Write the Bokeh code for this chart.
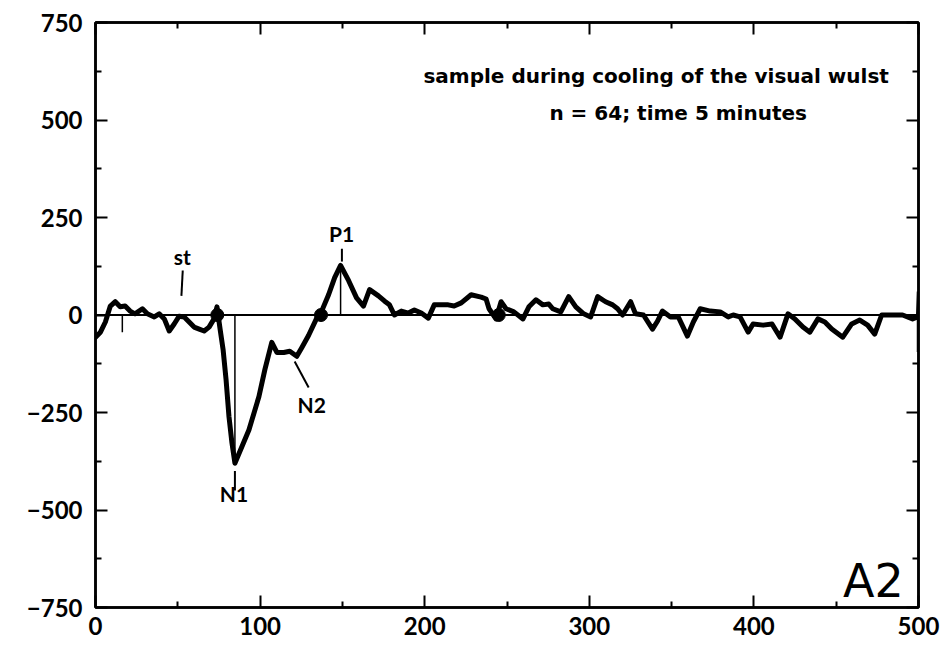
from bokeh.plotting import figure
from bokeh.models import Range1d, FixedTicker, LinearAxis, ColumnDataSource
from bokeh.core.properties import value
from bokeh.embed import file_html
from bokeh.resources import INLINE

# ---- data ----
time_ms = [0, 3, 6, 9, 12, 15, 18, 21, 24, 28.5, 31.5, 35.7, 38.7, 41.8, 44.8, 47.8,
           50.8, 53.9, 56.9, 59.9, 63, 66, 69, 72, 73.8, 75.7, 77.5, 79.3, 81.1, 82.9,
           84.7, 93.2, 99.3, 102.9, 107.1, 110.2, 114.4, 118, 122.3, 125.3, 129.5,
           134.4, 137.4, 141.6, 145.3, 148.9, 153.8, 158.6, 162.8, 166.5, 171.9,
           175.5, 178.6, 181.6, 185.8, 190.1, 193.7, 197.9, 202.2, 205.8, 210, 214.3,
           217.9, 222.2, 228.2, 234.3, 237.3, 239.1, 243.3, 246.4, 249.4, 254.2,
           259.7, 263.3, 267.6, 271.8, 275.4, 277.8, 282.7, 287.5, 291.8, 296.6,
           300.8, 305.1, 309.9, 314.2, 317.2, 320.2, 325.1, 328.1, 332.9, 338.4,
           341.4, 344.4, 349.3, 354.1, 359.6, 363.2, 367.4, 373.5, 379.5, 384.4,
           387.4, 391.6, 396.5, 399.5, 405.6, 411, 415.9, 420.7, 424.9, 429.8, 434,
           438.9, 443.1, 447.3, 454, 459.4, 464.3, 469.1, 473.4, 477.6, 484.3, 490.3,
           496.4, 499.5]
amplitude = [-57, -44, -18, 23, 34, 21, 23, 10, 3, 16, 3, -5, 3, -10, -41, -23,
             -3, -5, -18, -31, -36, -41, -31, -10, 21, -36, -88, -165, -261, -328,
             -380, -295, -209, -140, -70, -96, -96, -93, -106, -84, -52,
             -8, 10, 52, 96, 127, 88, 44, 23, 65, 49,
             36, 26, 0, 10, 5, 13, 5, -8, 26, 26, 26,
             23, 31, 52, 46, 41, 16, -10, 34, 16, 8,
             -10, 21, 39, 26, 28, 16, 8, 47, 21, 3,
             -5, 47, 34, 26, 16, 0, 34, 3, 0, -36,
             -16, 10, -5, -5, -54, -18, 16, 10, 8, -5,
             0, -5, -44, -23, -26, -23, -57, 3, -10, -31, -44,
             -10, -18, -36, -57, -23, -13, -26, -49, 0, 0, 0,
             -10, -5]

# end-of-sweep mark
end_x = [499.5, 500, 500]
end_y = [-5, 60, -95]

# latency markers on the baseline
marker_x = [74, 137, 245]
marker_y = [0, 0, 0]

# thin vertical drop lines (from baseline to peak)
drop_x = [16.3, 84.7, 148.9]
drop_top = [0, 0, 127]
drop_bottom = [-44, -380, 0]

# component labels
label_text = ["st", "P1", "N1", "N2"]
label_x = [52.7, 149.5, 84.1, 131.4]
label_y = [150, 209, -457, -230]

# pointer lines for labels
ptr_x0 = [53.0, 149.7, 84.7, 121.0]
ptr_y0 = [114, 170, -400, -119]
ptr_x1 = [52.2, 149.7, 84.7, 129.5]
ptr_y1 = [49, 137, -450, -186]

title_lines = ["sample during cooling of the visual wulst", "n = 64; time 5 minutes"]
panel_label = "A2"

x_major = [0, 100, 200, 300, 400, 500]
x_minor = [50, 150, 250, 350, 450]
y_major = [-750, -500, -250, 0, 250, 500, 750]
y_minor = [-625, -375, -125, 125, 375, 625]

# ---- figure ----
p = figure(width=940, height=645, x_range=Range1d(0, 500), y_range=Range1d(-750, 750),
           output_backend="svg", toolbar_location=None,
           min_border_left=95, min_border_top=22, min_border_right=22, min_border_bottom=38)
p.xgrid.visible = False
p.ygrid.visible = False
p.outline_line_color = "black"
p.outline_line_width = 2.5
p.background_fill_color = "white"
p.border_fill_color = "white"

FONT = "Lato"
TFONT = "DejaVu Sans"

def style_axis(ax, major, minor, show_labels, standoff):
    ax.ticker = FixedTicker(ticks=major, minor_ticks=minor)
    ax.axis_line_color = "black"
    ax.axis_line_width = 2.5
    ax.major_tick_line_color = "black"
    ax.major_tick_line_width = 2
    ax.minor_tick_line_color = "black"
    ax.minor_tick_line_width = 2
    ax.major_tick_in = 12
    ax.major_tick_out = 0
    ax.minor_tick_in = 6
    ax.minor_tick_out = 0
    if show_labels:
        ax.major_label_text_font = FONT
        ax.major_label_text_font_style = "bold"
        ax.major_label_text_font_size = "24px"
        ax.major_label_text_color = "black"
        ax.major_label_standoff = standoff
    else:
        ax.major_label_text_font_size = "0px"
        ax.major_label_standoff = 0

style_axis(p.xaxis[0], x_major, x_minor, True, 9)
style_axis(p.yaxis[0], y_major, y_minor, True, 13)

top_ax = LinearAxis()
right_ax = LinearAxis()
style_axis(top_ax, x_major, x_minor, False, 0)
style_axis(right_ax, y_major, y_minor, False, 0)
p.add_layout(top_ax, "above")
p.add_layout(right_ax, "right")

# baseline
p.line([0, 500], [0, 0], line_color="black", line_width=2)

# drop lines
p.segment(x0=drop_x, y0=drop_top, x1=drop_x, y1=drop_bottom, line_color="black", line_width=1.5)

# trace
p.line(time_ms, amplitude, line_color="black", line_width=5, line_join="round", line_cap="round")
p.line(end_x, end_y, line_color="black", line_width=3.5)

# latency markers
p.scatter(marker_x, marker_y, size=13, marker="circle", fill_color="black", line_color="black")

# pointers
p.segment(x0=ptr_x0, y0=ptr_y0, x1=ptr_x1, y1=ptr_y1, line_color="black", line_width=2)

# labels
src = ColumnDataSource(dict(x=label_x, y=label_y, t=label_text))
p.text(x="x", y="y", text="t", source=src, text_font=value(FONT), text_font_style="bold",
       text_font_size="21px", text_align="center", text_baseline="middle", text_color="black")

# title lines
p.text(x=[482], y=[612], text=[title_lines[0]], text_font=value(TFONT), text_font_style="bold",
       text_font_size="20px", text_align="right", text_baseline="middle", text_color="black")
p.text(x=[354], y=[519], text=[title_lines[1]], text_font=value(TFONT), text_font_style="bold",
       text_font_size="20px", text_align="center", text_baseline="middle", text_color="black")

# panel label
p.text(x=[491], y=[-681], text=[panel_label], text_font=value(TFONT), text_font_style="normal",
       text_font_size="46px", text_align="right", text_baseline="middle", text_color="black")

open("out.html", "w").write(file_html(p, INLINE))
